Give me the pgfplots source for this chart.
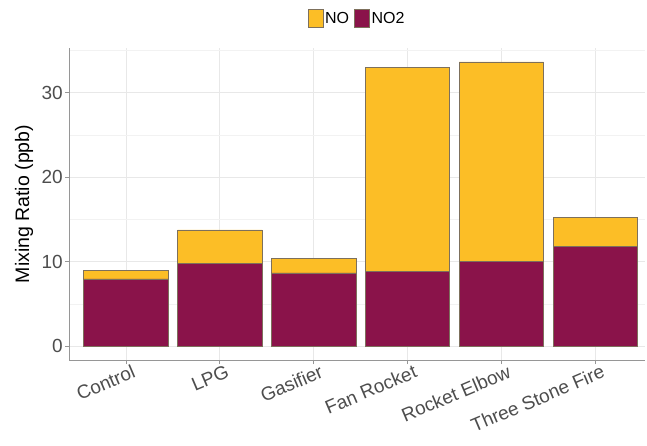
\documentclass[border=0pt]{standalone}
\usepackage{pgfplots}
\pgfplotsset{compat=1.18}
\usepackage{fontspec}
\setmainfont{Liberation Sans}
\definecolor{noY}{RGB}{252,190,38}
\definecolor{noP}{RGB}{138,19,74}
\definecolor{edgeC}{RGB}{125,112,92}
\definecolor{spine}{RGB}{150,150,150}
\definecolor{tickC}{RGB}{77,77,77}
\begin{document}
\begin{tikzpicture}
\useasboundingbox (-69pt,-85pt) rectangle (578pt,360pt);
\begin{axis}[
  at={(0,0)}, anchor=south west,
  scale only axis, width=576pt, height=312pt,
  xmin=-0.606, xmax=5.53, ymin=-1.66, ymax=35.3,
  axis x line*=bottom, axis y line*=left,
  axis line style={spine, line width=0.6pt, -},
  ybar stacked, bar width=0.9,
  xtick={0,1,2,3,4,5},
  xticklabels={Control,LPG,Gasifier,Fan Rocket,Rocket Elbow,Three Stone Fire},
  ytick={0,10,20,30}, minor ytick={5,15,25,35},
  tick align=outside, major tick length=4pt, minor tick length=0pt,
  tick style={spine, line width=0.6pt},
  grid=both,
  major grid style={color=black!9, line width=0.7pt},
  minor grid style={color=black!5, line width=0.4pt},
  tick label style={font=\fontsize{19}{22}\selectfont, text=tickC},
  yticklabel style={inner sep=2pt},
  xticklabel style={rotate=23, anchor=north east, inner sep=1pt, xshift=6pt, yshift=-1pt},
  /pgf/number format/assume math mode=true,
  ylabel={Mixing Ratio (ppb)},
  ylabel style={at={(axis description cs:-0.078,0.5)}, anchor=center, font=\fontsize{19.5}{22}\selectfont},
  legend columns=2,
  legend style={at={(0.5,1)}, anchor=south, yshift=20pt, draw=none, fill=none,
    font=\fontsize{16}{18}\selectfont, inner sep=0pt,
    /tikz/every even column/.append style={column sep=3pt}},
  legend cell align=left,
]
\addlegendimage{legend image code/.code={\draw[fill=noY, draw=edgeC, line width=0.5pt] (0pt,-9pt) rectangle (15pt,9pt);}}
\addlegendentry{NO}
\addlegendimage{legend image code/.code={\draw[fill=noP, draw=edgeC, line width=0.5pt] (0pt,-9pt) rectangle (15pt,9pt);}}
\addlegendentry{NO2}
\addplot[fill=noP, draw=edgeC, line width=0.6pt, forget plot] coordinates {(0,7.95) (1,9.75) (2,8.65) (3,8.85) (4,10.05) (5,11.8)};
\addplot[fill=noY, draw=edgeC, line width=0.6pt, forget plot] coordinates {(0,1.05) (1,4.0) (2,1.75) (3,24.15) (4,23.6) (5,3.45)};
\end{axis}
\end{tikzpicture}
\end{document}
